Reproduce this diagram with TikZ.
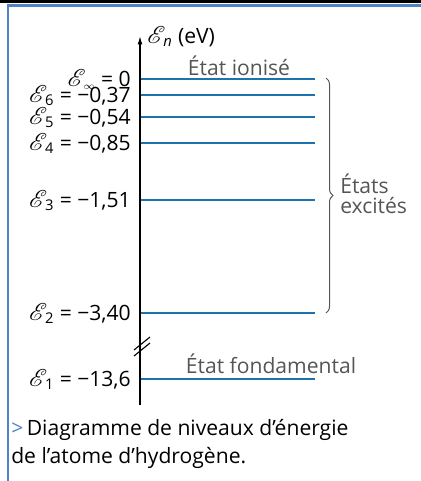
\documentclass[tikz,border=0pt]{standalone}
\usepackage{fontspec}
\setmainfont{Open Sans}
\usepackage{mathrsfs}
\usetikzlibrary{arrows.meta,decorations.pathreplacing}
\definecolor{levelblue}{RGB}{30,115,175}
\definecolor{frameblue}{RGB}{80,130,200}
\definecolor{stategray}{RGB}{85,85,85}
\newcommand{\Ebig}{{\fontsize{19}{20}\selectfont$\mathscr{E}$}}
\newcommand{\En}[1]{\Ebig\kern-1.5pt\textsubscript{#1}}

\begin{document}
\begin{tikzpicture}[
  x=0.025cm, y=-0.025cm,
  every node/.style={font=\fontsize{15}{20}\selectfont, inner sep=0pt},
  level/.style={levelblue, line width=1.5pt},
  lab/.style={anchor=base east},
  statetxt/.style={color=stategray},
  axis/.style={-{Latex[length=6pt,width=3.5pt]}, line width=0.9pt}
]
  \useasboundingbox (0,0) rectangle (421,481);
  \fill[black] (0,0) rectangle (421,3);
  \draw[frameblue, line width=1.6pt] (8,481) -- (8,5.5) -- (421,5.5);

  \coordinate (axbot) at (140,405);
  \coordinate (axtop) at (140,36);
  \draw[axis] (axbot) -- (axtop);
  \node[anchor=base west] (unit) at (147,43) {\En{\itshape n} (eV)};

  \foreach \y/\n/\txt in {79/inf/{\En{$\scriptstyle\infty$} = 0},
                          95/six/{\En{6} = −0,37},
                          117/five/{\En{5} = −0,54},
                          143/four/{\En{4} = −0,85},
                          200/three/{\En{3} = −1,51},
                          313/two/{\En{2} = −3,40},
                          379/one/{\En{1} = −13,6}}{
    \node[lab] (l\n) at (131,\y+7) {\txt};
    \coordinate (s\n) at (141,\y);
    \coordinate (e\n) at (315,\y);
    \draw[level] (s\n) -- (e\n);
  }

  \draw[line width=0.8pt] (134,350) -- (150,337);
  \draw[line width=0.8pt] (134,356) -- (150,343);

  \node[statetxt] (ion) at (239,66) {État ionisé};
  \node[statetxt] (fond) at (271,364) {État fondamental};

  \draw[stategray, line width=0.7pt, decorate, decoration={brace, amplitude=5pt}] (326,78) -- (326,313);
  \node[statetxt, anchor=west, align=left, font=\fontsize{15}{14.5}\selectfont] (exc) at (340,194) {États\\excités};

  \node[anchor=west, align=left] (cap) at (11,444) {{\color{frameblue}\textgreater}\,Diagramme de niveaux d’énergie\\de l’atome d’hydrogène.};
\end{tikzpicture}
\end{document}
